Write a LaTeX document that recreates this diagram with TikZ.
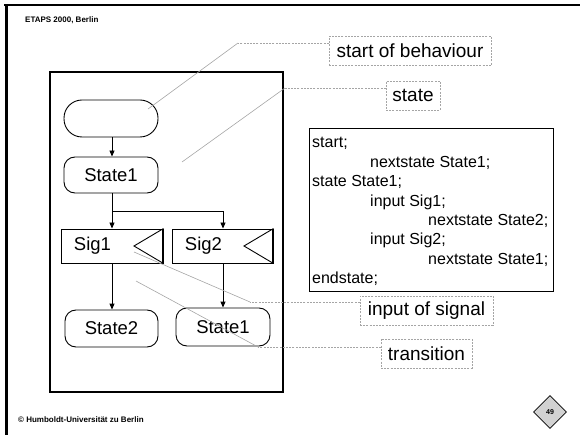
\documentclass[tikz,border=0pt]{standalone}
\usepackage{fontspec}
\setmainfont{Liberation Sans}
\usetikzlibrary{arrows.meta,shapes.geometric}

\definecolor{callgray}{RGB}{165,165,165}

\tikzset{
  sdlstate/.style={draw, line width=0.9pt, rounded corners=11pt, inner sep=0pt,
    minimum width=94pt, minimum height=37pt, font=\fontsize{18.5}{20}\selectfont},
  sdlstart/.style={sdlstate, rounded corners=18pt},
  inbox/.style={draw, line width=0.9pt, inner sep=0pt, minimum height=34pt},
  sigtext/.style={inner sep=0pt, font=\fontsize{18.5}{20}\selectfont},
  flow/.style={line width=0.9pt, -{Triangle[length=6pt,width=5pt]}},
  calloutbox/.style={draw=callgray, line width=0.6pt, dash pattern=on 2pt off 1.2pt,
    inner sep=0pt, minimum height=29.5pt, font=\fontsize{19}{21}\selectfont},
  calloutline/.style={draw=callgray, line width=0.6pt, dash pattern=on 2pt off 1.2pt},
  calloutdiag/.style={draw=callgray, line width=0.6pt},
  codeline/.style={anchor=base west, inner sep=0pt, font=\fontsize{16}{19}\selectfont},
  slidetext/.style={anchor=base west, inner sep=0pt, font=\bfseries\fontsize{8}{9}\selectfont}
}

\begin{document}
\begin{tikzpicture}[x=1pt,y=-1pt]
\useasboundingbox (0,0) rectangle (580,435);

% slide frame
\draw[line width=2.5pt] (4,5) -- (580,5);
\draw[line width=2.5pt] (6.5,5) -- (6.5,435);
\node[slidetext] (hdr) at (25,22.5) {ETAPS 2000, Berlin};
\node[slidetext] (ftr) at (18,422) {© Humboldt-Universität zu Berlin};
\node[diamond, draw, line width=0.8pt, fill=gray!35, inner sep=0pt,
  minimum width=33pt, minimum height=33pt,
  font=\bfseries\fontsize{7}{8}\selectfont] (page) at (550,412) {49};

% process frame
\draw[line width=1.3pt] (50,72) rectangle (283,392);

% SDL diagram
\node[sdlstart] (start) at (111,118.5) {};
\node[sdlstate, minimum height=36pt] (st1) at (111,175) {State1};
\node[inbox, minimum width=102pt] (sig1) at (112,246) {};
\node[sigtext] (sig1t) at (92.5,246) {Sig1};
\node[inbox, minimum width=101pt] (sig2) at (222.5,246) {};
\node[sigtext] (sig2t) at (203.5,246) {Sig2};
\node[sdlstate, minimum width=93pt] (st2) at (111.5,328.5) {State2};
\node[sdlstate, minimum height=38pt] (st1b) at (223,327) {State1};

% input triangles
\draw[line width=0.9pt] (sig1.north east) -- (134,246) -- (sig1.south east);
\draw[line width=2pt] (sig1.north east) -- (sig1.south east);
\draw[line width=0.9pt] (sig2.north east) -- (244,246) -- (sig2.south east);
\draw[line width=2pt] (sig2.north east) -- (sig2.south east);

% flow lines
\coordinate (split) at (112,211);
\draw[flow] (start.south -| split) -- (st1.north -| split);
\draw[line width=0.9pt] (st1.south -| split) -- (split);
\draw[flow] (split) -- (sig1.north -| split);
\draw[flow] (split) -| (sig2.north -| st1b);
\draw[flow] (sig1.south -| split) -- (st2.north -| split);
\draw[flow] (sig2.south -| st1b) -- (st1b.north);

% callouts
\node[calloutbox, minimum width=162pt] (lstart) at (410,51) {start of behaviour};
\node[calloutbox, minimum width=54pt, minimum height=29pt] (lstate) at (413,95.5) {state};
\node[calloutbox, minimum width=133pt, minimum height=29pt] (linput) at (426.5,310.5) {input of signal};
\node[calloutbox, minimum width=91pt, minimum height=29pt] (ltrans) at (426.5,353.5) {transition};

\coordinate (k1) at (238,43);  \coordinate (e1) at (148,109);
\coordinate (k2) at (285,88);  \coordinate (e2) at (182,162);
\coordinate (k3) at (250,302); \coordinate (e3) at (134,252);
\coordinate (k4) at (258,347); \coordinate (e4) at (136,281);
\draw[calloutline] (lstart.west |- k1) -- (k1);
\draw[calloutdiag] (k1) -- (e1);
\draw[calloutline] (lstate.west |- k2) -- (k2);
\draw[calloutdiag] (k2) -- (e2);
\draw[calloutline] (linput.west |- k3) -- (k3);
\draw[calloutdiag] (k3) -- (e3);
\draw[calloutline] (ltrans.west |- k4) -- (k4);
\draw[calloutdiag] (k4) -- (e4);

% textual SDL
\node[draw, line width=1pt, fill=white, minimum width=244pt, minimum height=162pt,
  inner sep=0pt] (code) at (431,210) {};
\foreach \i/\ind/\txt in {0/0/start;, 1/1/nextstate State1;, 2/0/state State1;,
    3/1/input Sig1;, 4/2/nextstate State2;, 5/1/input Sig2;,
    6/2/nextstate State1;, 7/0/endstate;}
  \node[codeline] (code\i) at (312+58*\ind, 148+19.4*\i) {\txt};
\end{tikzpicture}
\end{document}
